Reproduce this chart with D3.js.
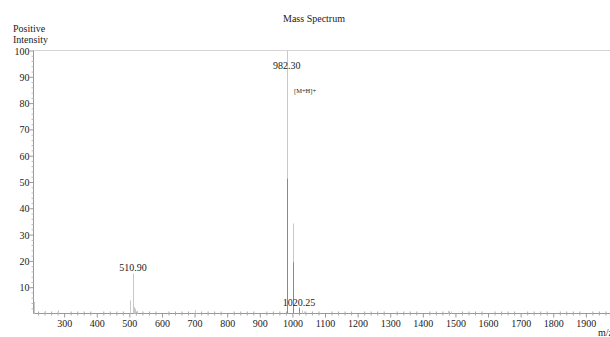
<!DOCTYPE html>
<html><head><meta charset="utf-8">
<script src="https://cdn.jsdelivr.net/npm/d3@7"></script>
<style>body{margin:0;background:#fff;overflow:hidden}svg{display:block}text{font-family:"Liberation Serif","Times New Roman",serif;fill:#222}</style>
</head><body><div id="c"></div>
<script>
// m/z values and intensities (two overlaid traces)
const lightMz  = [207, 240, 282, 503, 510.9, 515, 518, 522, 700, 982.3, 1003, 1020.25, 1028, 1036, 1478, 1486, 1985];
const lightInt = [4.5, 1.0, 1.2, 5.0, 15.2, 2.5, 1.8, 1.0, 1.3, 100, 34.2, 2.5, 1.2, 0.8, 1.0, 0.8, 1.2];
const darkMz   = [982.3, 1003, 1020.25];
const darkInt  = [51.3, 19.5, 2.0];
const peakLabels = ["510.90", "982.30", "1020.25"];
const labelMz    = [510.9, 982.3, 1020.25];
const labelAt    = [16, 93, 3];
const xTicks = d3.range(300, 2000, 100);
const yTicks = d3.range(10, 101, 10);

const W = 610, H = 337;
const svg = d3.select("#c").append("svg").attr("width", W).attr("height", H);
const x = d3.scaleLinear().domain([206, 1974]).range([33.5, 610]);
const y = d3.scaleLinear().domain([0, 100]).range([313.5, 50.5]);

// title
svg.append("text").attr("x", 314).attr("y", 22).attr("text-anchor", "middle").attr("font-size", 10).text("Mass Spectrum");
svg.append("text").attr("x", 13).attr("y", 32).attr("font-size", 10).text("Positive");
svg.append("text").attr("x", 13).attr("y", 43).attr("font-size", 10).text("Intensity");

// top border
svg.append("line").attr("x1", 33.5).attr("x2", W).attr("y1", y(100)).attr("y2", y(100)).attr("stroke", "#d4d4d4");

// y axis
const ya = svg.append("g").attr("transform", "translate(33.5,0)").call(
  d3.axisLeft(y).tickValues(yTicks).tickSize(4).tickFormat(d3.format("d")));
ya.select(".domain").attr("stroke", "#999").attr("d", `M0,${y(0)}V${y(100)}`);
ya.selectAll(".tick line").attr("stroke", "#999");
ya.selectAll(".tick text").attr("font-size", 10).attr("font-family", "Liberation Serif").attr("fill", "#222").attr("x", -4).attr("dy", "0.35em");
const ym = svg.append("g").attr("transform", "translate(33.5,0)").call(
  d3.axisLeft(y).tickValues(d3.range(2, 100, 2).filter(v => v % 10)).tickSize(2).tickFormat(""));
ym.select(".domain").remove();
ym.selectAll("line").attr("stroke", "#bbb");

// x axis
const xa = svg.append("g").attr("transform", `translate(0,${y(0)})`).call(
  d3.axisBottom(x).tickValues(xTicks).tickSize(4).tickFormat(d3.format("d")));
xa.select(".domain").attr("stroke", "#999").attr("d", `M33.5,0H${W}`);
xa.selectAll(".tick line").attr("stroke", "#999");
xa.selectAll(".tick text").attr("font-size", 10).attr("font-family", "Liberation Serif").attr("fill", "#222").attr("y", 6);
const xm = svg.append("g").attr("transform", `translate(0,${y(0)})`).call(
  d3.axisBottom(x).tickValues(d3.range(220, 1980, 20).filter(v => v % 100)).tickSize(2).tickFormat(""));
xm.select(".domain").remove();
xm.selectAll("line").attr("stroke", "#aaa").attr("y1", -2);

// peaks
const light = lightMz.map((m, i) => ({m, v: lightInt[i]}));
const dark = darkMz.map((m, i) => ({m, v: darkInt[i]}));
svg.append("g").selectAll("line").data(light).join("line")
  .attr("x1", d => Math.round(x(d.m)) + 0.5).attr("x2", d => Math.round(x(d.m)) + 0.5)
  .attr("y1", y(0)).attr("y2", d => y(d.v)).attr("stroke", "#c9c9c9").attr("stroke-width", 1);
svg.append("g").selectAll("line").data(dark).join("line")
  .attr("x1", d => Math.round(x(d.m)) + 0.5).attr("x2", d => Math.round(x(d.m)) + 0.5)
  .attr("y1", y(0)).attr("y2", d => y(d.v)).attr("stroke", "#8a8a8a").attr("stroke-width", 1);

// labels
svg.append("g").selectAll("text").data(peakLabels).join("text")
  .attr("x", (d, i) => x(labelMz[i])).attr("y", (d, i) => y(labelAt[i]))
  .attr("text-anchor", "middle").attr("font-size", 10).text(d => d);
svg.append("text").attr("x", 294).attr("y", y(84)).attr("font-size", 6.5).text("[M+H]+");
svg.append("text").attr("x", 598).attr("y", 336).attr("font-size", 10).text("m/z");
</script></body></html>
